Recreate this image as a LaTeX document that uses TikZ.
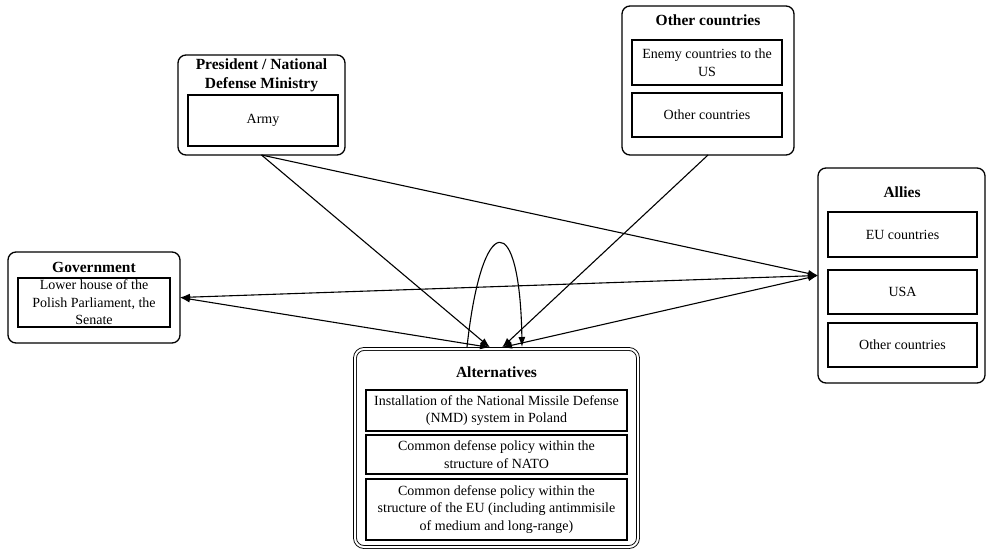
\documentclass[tikz,border=0pt]{standalone}
\usepackage{fontspec}
\setmainfont{Liberation Serif}
\usetikzlibrary{arrows.meta,calc}
\begin{document}
\begin{tikzpicture}[x=1pt,y=-1pt,
  outerbox/.style={draw, line width=1.3pt, rounded corners=8pt, inner sep=0pt, outer sep=0pt},
  innerbox/.style={draw, line width=1.2pt, inner sep=0pt, outer sep=0pt, align=center,
    font=\fontsize{14}{17.5}\selectfont},
  titletext/.style={inner sep=0pt, align=center, font=\bfseries\fontsize{15.5}{18.5}\selectfont},
  conn/.style={line width=1.1pt, -{Latex[length=10pt,width=7pt]}},
  biconn/.style={line width=1.1pt, {Latex[length=10pt,width=7pt]}-{Latex[length=10pt,width=7pt]}}
]
\useasboundingbox (0,0) rectangle (987,549);

% President
\node[outerbox, minimum width=167pt, minimum height=100pt] (pres) at (261.5,105) {};
\node[titletext] (prestitle) at (261.5,75.5) {President / National\\Defense Ministry};
\node[innerbox, minimum width=150pt, minimum height=51pt] (army) at (263,120.5) {Army};

% Other countries
\node[outerbox, minimum width=172pt, minimum height=149pt] (oth) at (708,80.5) {};
\node[titletext] (othtitle) at (708,20) {Other countries};
\node[innerbox, minimum width=150pt, minimum height=45pt] (enemy) at (707,62.5) {Enemy countries to the\\US};
\node[innerbox, minimum width=150pt, minimum height=44pt] (othc) at (707,115) {Other countries};

% Allies
\node[outerbox, minimum width=167pt, minimum height=215pt] (allies) at (901.5,275.5) {};
\node[titletext] (alliestitle) at (902,192) {Allies};
\node[innerbox, minimum width=149pt, minimum height=45pt] (eu) at (902.5,234.5) {EU countries};
\node[innerbox, minimum width=149pt, minimum height=44pt] (usa) at (902.5,292) {USA};
\node[innerbox, minimum width=149pt, minimum height=44pt] (allyoth) at (902.5,345) {Other countries};

% Government
\node[outerbox, minimum width=172pt, minimum height=91pt] (gov) at (94,297.5) {};
\node[titletext] (govtitle) at (94,267) {Government};
\node[innerbox, minimum width=152pt, minimum height=49pt] (lower) at (94,302.5) {Lower house of the\\Polish Parliament, the\\Senate};

% Alternatives
\node[draw, double, double distance=2pt, line width=0.9pt, rounded corners=9pt,
  minimum width=283pt, minimum height=198pt, inner sep=0pt, outer sep=0pt] (alt) at (496.5,448) {};
\node[titletext] (alttitle) at (496.5,372) {Alternatives};
\node[innerbox, minimum width=261pt, minimum height=41pt] (nmd) at (496.5,410.5) {Installation of the National Missile Defense\\(NMD) system in Poland};
\node[innerbox, minimum width=261pt, minimum height=39pt] (nato) at (496.5,454.5) {Common defense policy within the\\structure of NATO};
\node[innerbox, minimum width=261pt, minimum height=61pt] (euopt) at (496.5,509.5) {Common defense policy within the\\structure of the EU (including antimmisile\\of medium and long-range)};

% connection points
\coordinate (altL) at ($(alt.north)+(-6.5,-1.5)$);
\coordinate (altR) at ($(alt.north)+(5.5,-1.5)$);
\coordinate (loopS) at (467,347);
\coordinate (loopE) at (522,347);

% connectors
\draw[conn] (pres.south) -- (altL);
\draw[conn] (pres.south) -- (allies.west);
\draw[conn] (oth.south) -- (altR);
\draw[biconn] (allies.west) -- (gov.east);
\draw[biconn] (gov.east) -- (altL);
\draw[biconn] (allies.west) -- (altR);
\draw[conn] (loopS) .. controls (482,209) and (520,209) .. (loopE);
\end{tikzpicture}
\end{document}
